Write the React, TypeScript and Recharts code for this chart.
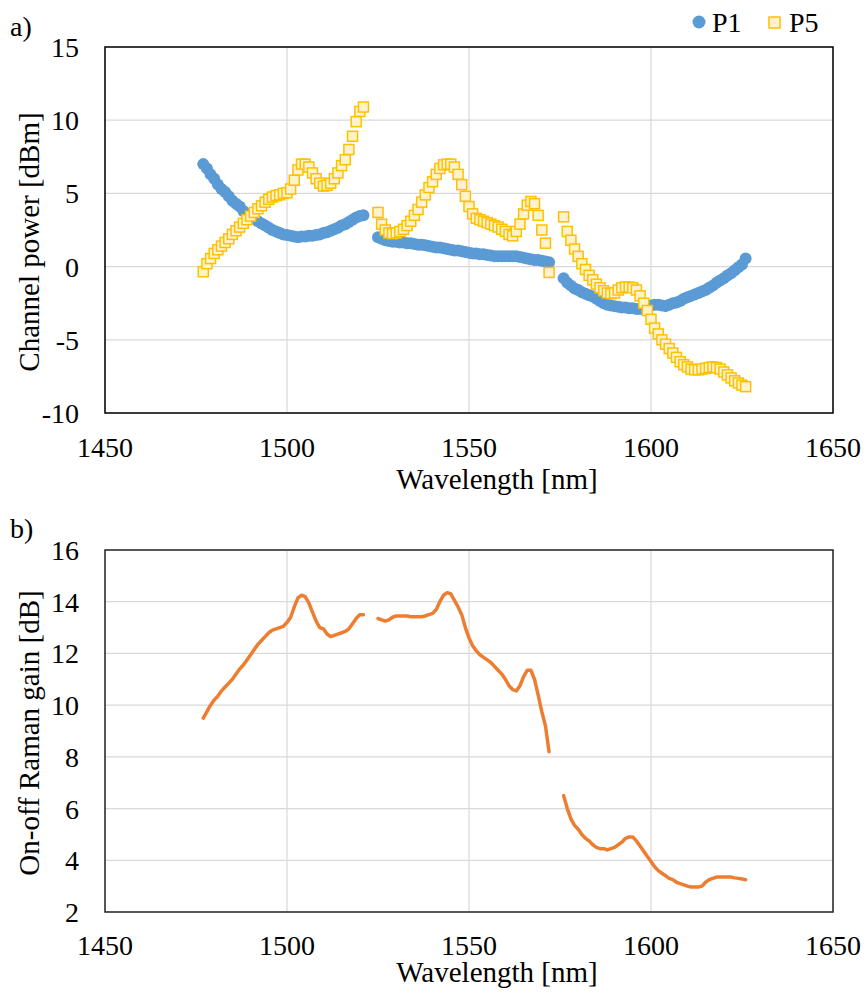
import React from 'react';
import {
  ScatterChart, Scatter, LineChart, Line, XAxis, YAxis, CartesianGrid, ReferenceArea,
} from 'recharts';

// ---------- DATA ----------
const wlTicks = [1450, 1500, 1550, 1600, 1650];
const powerTicks = [-10, -5, 0, 5, 10, 15];
const gainTicks = [2, 4, 6, 8, 10, 12, 14, 16];

// wavelength grids of the three measured bands [nm]
const wlA = [1477, 1478, 1479, 1480, 1481, 1482, 1483, 1484, 1485, 1486, 1487, 1488, 1489, 1490, 1491, 1492, 1493, 1494, 1495, 1496, 1497, 1498, 1499, 1500, 1501, 1502, 1503, 1504, 1505, 1506, 1507, 1508, 1509, 1510, 1511, 1512, 1513, 1514, 1515, 1516, 1517, 1518, 1519, 1520, 1521];
const wlB = [1525, 1526, 1527, 1528, 1529, 1530, 1531, 1532, 1533, 1534, 1535, 1536, 1537, 1538, 1539, 1540, 1541, 1542, 1543, 1544, 1545, 1546, 1547, 1548, 1549, 1550, 1551, 1552, 1553, 1554, 1555, 1556, 1557, 1558, 1559, 1560, 1561, 1562, 1563, 1564, 1565, 1566, 1567, 1568, 1569, 1570, 1571, 1572];
const wlC = [1576, 1577, 1578, 1579, 1580, 1581, 1582, 1583, 1584, 1585, 1586, 1587, 1588, 1589, 1590, 1591, 1592, 1593, 1594, 1595, 1596, 1597, 1598, 1599, 1600, 1601, 1602, 1603, 1604, 1605, 1606, 1607, 1608, 1609, 1610, 1611, 1612, 1613, 1614, 1615, 1616, 1617, 1618, 1619, 1620, 1621, 1622, 1623, 1624, 1625, 1626];

// P1 channel power [dBm]
const p1A = [7.0, 6.7, 6.3, 6.0, 5.6, 5.3, 5.1, 4.8, 4.5, 4.3, 4.1, 3.8, 3.6, 3.4, 3.3, 3.1, 2.95, 2.8, 2.65, 2.5, 2.4, 2.3, 2.2, 2.15, 2.1, 2.05, 2.0, 2.05, 2.05, 2.1, 2.1, 2.15, 2.2, 2.3, 2.35, 2.45, 2.55, 2.65, 2.8, 2.9, 3.05, 3.2, 3.35, 3.45, 3.5];
const p1B = [2.0, 1.9, 1.8, 1.75, 1.7, 1.7, 1.65, 1.65, 1.6, 1.6, 1.55, 1.5, 1.5, 1.45, 1.4, 1.35, 1.3, 1.3, 1.25, 1.2, 1.15, 1.1, 1.1, 1.05, 1.0, 0.95, 0.9, 0.9, 0.85, 0.85, 0.8, 0.75, 0.7, 0.7, 0.7, 0.7, 0.7, 0.7, 0.7, 0.65, 0.6, 0.55, 0.5, 0.45, 0.45, 0.4, 0.35, 0.3];
const p1C = [-0.8, -1.1, -1.3, -1.5, -1.6, -1.75, -1.85, -1.95, -2.05, -2.2, -2.35, -2.5, -2.6, -2.65, -2.7, -2.75, -2.8, -2.8, -2.85, -2.85, -2.9, -2.9, -2.85, -2.8, -2.65, -2.6, -2.6, -2.65, -2.7, -2.6, -2.5, -2.45, -2.35, -2.2, -2.1, -2.0, -1.9, -1.8, -1.7, -1.6, -1.45, -1.3, -1.1, -0.95, -0.8, -0.6, -0.45, -0.25, -0.05, 0.15, 0.55];

// P5 channel power [dBm]
const p5A = [-0.35, 0.2, 0.55, 0.9, 1.15, 1.4, 1.65, 1.9, 2.2, 2.45, 2.7, 2.95, 3.2, 3.45, 3.7, 3.95, 4.15, 4.4, 4.6, 4.75, 4.85, 4.9, 5.0, 5.05, 5.3, 5.9, 6.6, 7.0, 7.0, 6.8, 6.4, 6.0, 5.7, 5.5, 5.55, 5.7, 6.0, 6.4, 6.9, 7.3, 8.0, 8.9, 9.9, 10.6, 10.9];
const p5B = [3.7, 2.9, 2.5, 2.3, 2.25, 2.3, 2.4, 2.55, 2.8, 3.1, 3.5, 3.9, 4.4, 4.9, 5.4, 5.8, 6.3, 6.7, 6.95, 7.0, 7.0, 6.8, 6.3, 5.6, 4.8, 4.1, 3.6, 3.3, 3.2, 3.1, 3.0, 2.9, 2.8, 2.7, 2.55, 2.4, 2.2, 2.1, 2.4, 2.9, 3.6, 4.2, 4.45, 4.3, 3.5, 2.5, 1.6, -0.4];
const p5C = [3.4, 2.4, 1.8, 1.2, 0.7, 0.2, -0.2, -0.6, -0.9, -1.2, -1.45, -1.65, -1.8, -1.85, -1.8, -1.6, -1.45, -1.4, -1.4, -1.45, -1.6, -2.0, -2.5, -3.0, -3.6, -4.2, -4.6, -5.0, -5.3, -5.6, -5.9, -6.2, -6.5, -6.7, -6.85, -7.0, -7.05, -7.05, -7.0, -6.95, -6.9, -6.85, -6.9, -7.0, -7.2, -7.4, -7.6, -7.8, -7.95, -8.1, -8.2];

// On-off Raman gain [dB]
const gainA = [9.5, 9.75, 10.0, 10.2, 10.35, 10.55, 10.7, 10.85, 11.0, 11.2, 11.4, 11.55, 11.75, 11.95, 12.15, 12.35, 12.5, 12.65, 12.8, 12.9, 12.95, 13.0, 13.05, 13.2, 13.4, 13.8, 14.15, 14.25, 14.2, 13.95, 13.6, 13.25, 13.0, 12.95, 12.75, 12.65, 12.7, 12.75, 12.8, 12.85, 12.95, 13.15, 13.35, 13.5, 13.5];
const gainB = [13.35, 13.3, 13.25, 13.3, 13.4, 13.45, 13.45, 13.45, 13.45, 13.42, 13.42, 13.42, 13.42, 13.45, 13.5, 13.55, 13.7, 14.0, 14.25, 14.35, 14.3, 14.05, 13.8, 13.5, 13.0, 12.6, 12.3, 12.1, 11.95, 11.85, 11.75, 11.65, 11.5, 11.35, 11.2, 11.0, 10.75, 10.6, 10.55, 10.75, 11.1, 11.35, 11.35, 11.0, 10.4, 9.75, 9.2, 8.2];
const gainC = [6.5, 6.0, 5.6, 5.35, 5.2, 5.0, 4.85, 4.75, 4.6, 4.5, 4.45, 4.45, 4.4, 4.45, 4.5, 4.6, 4.7, 4.85, 4.9, 4.9, 4.75, 4.55, 4.35, 4.15, 3.95, 3.75, 3.6, 3.5, 3.4, 3.3, 3.25, 3.15, 3.1, 3.05, 3.0, 2.97, 2.97, 2.97, 3.0, 3.15, 3.25, 3.3, 3.35, 3.35, 3.35, 3.35, 3.35, 3.32, 3.3, 3.28, 3.25];

// ---------- TABLES ----------
const toPoints = (wls: number[], vals: number[]) => wls.map((x, i) => ({ x, y: vals[i] }));
const p1Points = [...toPoints(wlA, p1A), ...toPoints(wlB, p1B), ...toPoints(wlC, p1C)];
const p5Points = [...toPoints(wlA, p5A), ...toPoints(wlB, p5B), ...toPoints(wlC, p5C)];
const gainRows = [
  ...wlA.map((wl, i) => ({ wl, gain: gainA[i] as number | null })),
  { wl: 1523, gain: null },
  ...wlB.map((wl, i) => ({ wl, gain: gainB[i] as number | null })),
  { wl: 1574, gain: null },
  ...wlC.map((wl, i) => ({ wl, gain: gainC[i] as number | null })),
];

// ---------- STYLE ----------
const FONT = 'Liberation Serif, serif';
const TS = { fontFamily: FONT, fontSize: 28, fill: '#000' } as React.CSSProperties;
const TITLE = { fontFamily: FONT, fontSize: 29, fill: '#000' } as React.CSSProperties;
const SMALL = { fontFamily: FONT, fontSize: 28, fill: '#000' } as React.CSSProperties;
const BLUE = '#5B9BD5';
const GOLD = '#FFC000';
const GOLD_FILL = '#FFF2CC';
const ORANGE = '#ED7D31';
const GRID = '#D9D9D9';

const circleShape = (p: any) => <circle cx={p.cx} cy={p.cy} r={6} fill={BLUE} />;
const squareShape = (p: any) => (
  <rect x={p.cx - 5} y={p.cy - 5} width={10} height={10} fill={GOLD_FILL} stroke={GOLD} strokeWidth={1.5} />
);

const XTick = (p: any) => (
  <text x={p.x} y={p.y} dy="0.71em" textAnchor="middle" style={TS}>
    {p.payload.value}
  </text>
);
const YTick = (p: any) => (
  <text x={p.x} y={p.y} dy="0.355em" textAnchor="end" style={TS}>
    {p.payload.value}
  </text>
);

const xTitle = (y: number) => () => (
  <text x={497} y={y} textAnchor="middle" style={TITLE}>
    Wavelength [nm]
  </text>
);
const yTitle = (text: string, cy: number) => () => (
  <text x={29} y={cy} dy="0.355em" transform={`rotate(-90, 29, ${cy})`} textAnchor="middle" style={TITLE}>
    {text}
  </text>
);

export default function App() {
  return (
    <div style={{ position: 'absolute', left: 0, top: 0, width: 866, height: 992, background: '#fff' }}>
      <div style={{ position: 'absolute', left: 0, top: 0 }}>
        <ScatterChart width={866} height={500} margin={{ top: 47, right: 33, bottom: 27, left: 25 }}>
          <CartesianGrid stroke={GRID} strokeWidth={1.2} />
          <XAxis
            type="number"
            dataKey="x"
            domain={[1450, 1650]}
            ticks={wlTicks}
            interval={0}
            tickLine={false}
            axisLine={false}
            tickMargin={18}
            height={60}
            tick={XTick}
            label={xTitle(489)}
          />
          <YAxis
            type="number"
            dataKey="y"
            domain={[-10, 15]}
            ticks={powerTicks}
            interval={0}
            tickLine={false}
            axisLine={false}
            tickMargin={20}
            width={80}
            tick={YTick}
            label={yTitle('Channel power [dBm]', 242)}
          />
          <ReferenceArea x1={1450} x2={1650} y1={-10} y2={15} fill="none" stroke="#000" strokeWidth={1.5} ifOverflow="visible" />
          <Scatter name="P1" data={p1Points} shape={circleShape} isAnimationActive={false} />
          <Scatter name="P5" data={p5Points} shape={squareShape} isAnimationActive={false} />
        </ScatterChart>
      </div>
      <div style={{ position: 'absolute', left: 0, top: 500 }}>
        <LineChart width={866} height={492} data={gainRows} margin={{ top: 50, right: 33, bottom: 20, left: 25 }}>
          <CartesianGrid stroke={GRID} strokeWidth={1.2} />
          <XAxis
            type="number"
            dataKey="wl"
            domain={[1450, 1650]}
            ticks={wlTicks}
            interval={0}
            tickLine={false}
            axisLine={false}
            tickMargin={17}
            height={60}
            tick={XTick}
            label={xTitle(482)}
          />
          <YAxis
            type="number"
            domain={[2, 16]}
            ticks={gainTicks}
            interval={0}
            tickLine={false}
            axisLine={false}
            tickMargin={20}
            width={80}
            tick={YTick}
            label={yTitle('On-off Raman gain [dB]', 233)}
          />
          <ReferenceArea x1={1450} x2={1650} y1={2} y2={16} fill="none" stroke="#262626" strokeWidth={1.5} ifOverflow="visible" />
          <Line
            type="linear"
            dataKey="gain"
            stroke={ORANGE}
            strokeWidth={3.5}
            dot={false}
            connectNulls={false}
            isAnimationActive={false}
            strokeLinecap="round"
            strokeLinejoin="round"
          />
        </LineChart>
      </div>
      <svg width={866} height={992} style={{ position: 'absolute', left: 0, top: 0, pointerEvents: 'none' }}>
        <text x={10} y={36} style={SMALL}>a)</text>
        <text x={10} y={538} style={SMALL}>b)</text>
        <circle cx={699} cy={22} r={6.5} fill={BLUE} />
        <text x={712} y={32} style={SMALL}>P1</text>
        <rect x={769} y={17} width={11} height={11} fill={GOLD_FILL} stroke={GOLD} strokeWidth={1.5} />
        <text x={789} y={32} style={SMALL}>P5</text>
      </svg>
    </div>
  );
}
